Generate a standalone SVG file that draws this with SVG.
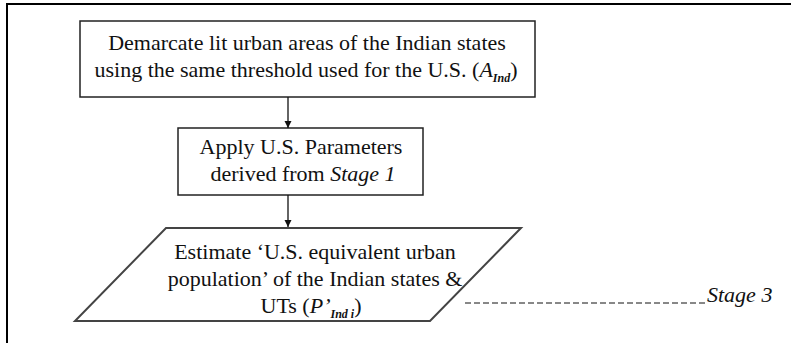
<svg xmlns="http://www.w3.org/2000/svg" width="791" height="343" viewBox="0 0 791 343">
  <style>
    .frame { stroke: #000; stroke-width: 2; fill: none; }
    .node { fill: #fff; stroke: #222; stroke-width: 1.5; }
    .io { fill: #fff; stroke: #444; stroke-width: 2; }
    .t { font-family: "Liberation Serif", "Times New Roman", serif; font-size: 22px; fill: #111; text-anchor: middle; }
    .it { font-style: italic; }
    .sub { font-size: 12px; font-style: italic; font-weight: bold; }
    .edge { stroke: #111; stroke-width: 1.3; fill: none; }
    .dash { stroke: #111; stroke-width: 1; stroke-dasharray: 6 3; fill: none; }
  </style>
  <defs>
    <marker id="arrow" viewBox="0 0 10 10" refX="10" refY="5" markerWidth="7" markerHeight="8" orient="auto" markerUnits="userSpaceOnUse">
      <path d="M0,0 L10,5 L0,10 z" fill="#111"/>
    </marker>
  </defs>

  <rect width="791" height="343" fill="#fff"/>
  <!-- page frame: top and left rules only -->
  <path class="frame" d="M7,343 V4 H791"/>

  <g id="demarcate">
    <rect class="node" x="80" y="21" width="455" height="76"/>
    <text class="t" x="307" y="50">Demarcate lit urban areas of the Indian states</text>
    <text class="t" x="306" y="77">using the same threshold used for the U.S. (<tspan class="it">A</tspan><tspan class="sub" dy="5">Ind</tspan><tspan dy="-5">)</tspan></text>
  </g>

  <g id="apply-parameters">
    <rect class="node" x="178" y="128" width="245" height="67"/>
    <text class="t" x="301" y="154">Apply U.S. Parameters</text>
    <text class="t" x="303" y="181">derived from <tspan class="it">Stage 1</tspan></text>
  </g>

  <g id="estimate-population">
    <polygon class="io" points="166,228 521,228 430,321 75,321"/>
    <text class="t" x="315" y="259">Estimate ‘U.S. equivalent urban</text>
    <text class="t" x="315" y="286">population’ of the Indian states &amp;</text>
    <text class="t" x="311" y="313">UTs (<tspan class="it">P’</tspan><tspan class="sub" dy="5">Ind i</tspan><tspan dy="-5">)</tspan></text>
  </g>

  <g id="connectors">
    <line class="edge" x1="288" y1="97" x2="288" y2="128" marker-end="url(#arrow)"/>
    <line class="edge" x1="288" y1="195" x2="288" y2="227" marker-end="url(#arrow)"/>
    <line class="dash" x1="465" y1="303" x2="706" y2="303"/>
  </g>

  <g id="stage-label">
    <text class="t it" x="707" y="302" style="text-anchor:start">Stage 3</text>
  </g>
</svg>
